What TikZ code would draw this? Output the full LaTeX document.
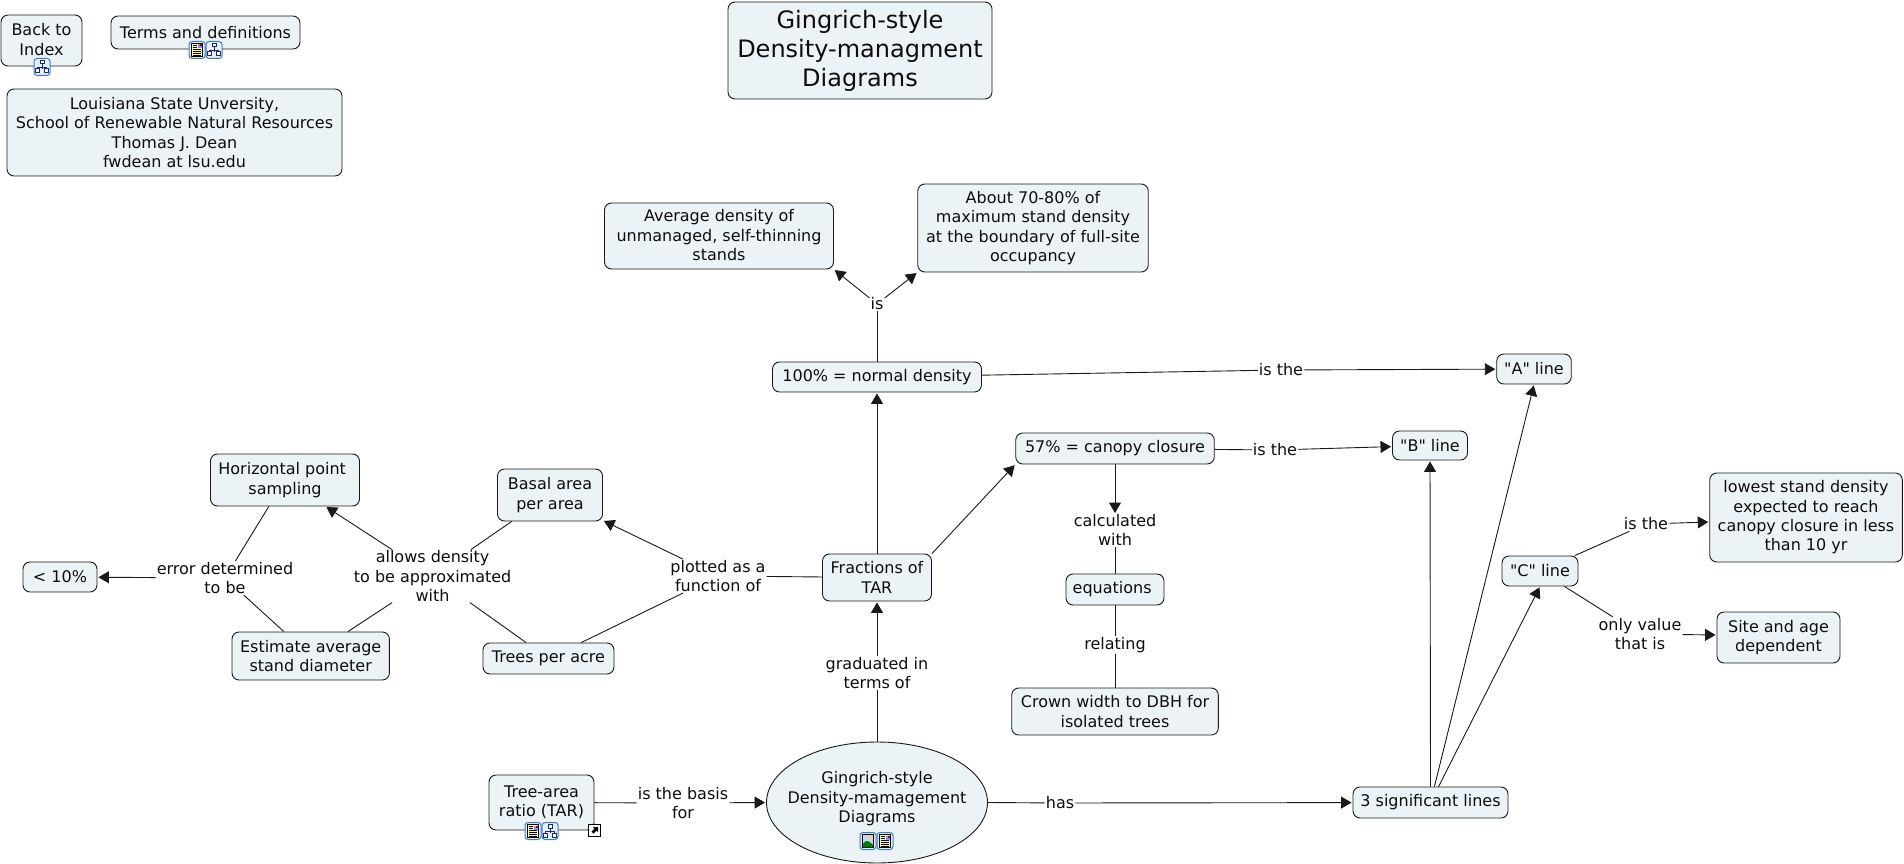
\documentclass[tikz,border=0pt]{standalone}
\usepackage{fontspec}
\setmainfont{DejaVu Sans}
\newfontfamily\plainquotes{DejaVu Sans}
\usetikzlibrary{arrows.meta,shapes.geometric,calc}
\definecolor{boxfill}{HTML}{ECF3F6}
\definecolor{iconblue}{HTML}{3F7CC8}
\definecolor{iconbg}{HTML}{E6EFFA}
\definecolor{navy}{HTML}{1C2B78}
\tikzset{
  base/.style={font=\fontsize{16}{19.3}\selectfont,align=center,text=black!95},
  box/.style={base,draw=black!90,fill=boxfill,line width=0.9pt,rounded corners=7pt,inner sep=0pt},
  lab/.style={base,inner sep=1pt},
  link/.style={draw=black!90,line width=0.9pt},
  arr/.style={link,-{Triangle[length=10.5pt,width=12pt]},shorten >=1pt},
}
\newcommand{\iconframe}{\draw[iconblue,line width=1pt,fill=iconbg,rounded corners=3pt] (-8,-8.5) rectangle (8,8.5);}
\newcommand{\iconmap}[2]{\begin{scope}[shift={(#1,#2)}]
  \iconframe
  \draw[navy,line width=0.9pt] (0,-3) -- (0,0) (-4.5,0) -- (4.5,0) (-4.5,0) -- (-4.5,2) (4.5,0) -- (4.5,2) (0,0) -- (0,2);
  \draw[navy,line width=1pt,fill=white] (-2,-6.5) rectangle (2,-3);
  \draw[navy,line width=1pt,fill=white] (-6.5,2) rectangle (-2.8,6);
  \draw[navy,line width=1pt,fill=white] (2.8,2) rectangle (6.5,6);
\end{scope}}
\newcommand{\icondoc}[2]{\begin{scope}[shift={(#1,#2)}]
  \iconframe
  \draw[black,line width=0.8pt,fill=yellow!35] (-5.5,-6.5) rectangle (5.5,6.5);
  \fill[blue!45] (0.5,-5.5) rectangle (4.5,-1.5);
  \fill[red!70!black] (2.5,-5.5) rectangle (4.5,-3.5);
  \draw[black,line width=0.8pt] (-4,-5) -- (-0.5,-5) (-4,-3) -- (-0.5,-3) (-4,-1) -- (4,-1) (-4,1) -- (4,1) (-4,3) -- (4,3) (-4,5) -- (4,5);
\end{scope}}
\newcommand{\iconimg}[2]{\begin{scope}[shift={(#1,#2)}]
  \iconframe
  \draw[black,line width=0.8pt,fill=blue!18] (-5.5,-6.5) rectangle (5.5,6.5);
  \fill[yellow!90!orange] (2,-3.5) circle (1.8);
  \fill[green!50!black] (-5.1,6.1) -- (-5.1,3) .. controls (-2,-1.5) and (0,-1) .. (5.1,4) -- (5.1,6.1) -- cycle;
\end{scope}}
\newcommand{\iconlink}[2]{\begin{scope}[shift={(#1,#2)}]
  \draw[black,line width=1pt,fill=white] (-6,-6) rectangle (6,6);
  \fill[black] (3.5,-3.5) -- (-1.5,-3.5) -- (0,-2) -- (-3,1) -- (-1,3) -- (2,0) -- (3.5,1.5) -- cycle;
\end{scope}}
\begin{document}
\begin{tikzpicture}[x=1pt,y=-1pt]
\useasboundingbox (0,-1) rectangle (1904,863);
% concepts
\node[box,minimum width=81pt,minimum height=51pt] (back) at (41.5,39.5) {Back to\\ Index\rule[-2pt]{0pt}{0pt}};
\node[box,minimum width=189pt,minimum height=33pt] (terms) at (205.5,31.5) {Terms and definitions};
\node[box,minimum width=335pt,minimum height=87pt] (lsu) at (174.5,131.5) {Louisiana State Unversity,\\School of Renewable Natural Resources\\Thomas J. Dean\\fwdean at lsu.edu};
\node[box,minimum width=264pt,minimum height=97pt,font=\fontsize{24}{29}\selectfont] (title) at (860,49.5) {Gingrich-style\\Density-managment\\Diagrams};
\node[box,minimum width=229pt,minimum height=66pt] (avg) at (719,235) {Average density of\\unmanaged, self-thinning\\stands\rule[-2pt]{0pt}{0pt}};
\node[box,minimum width=230.5pt,minimum height=88pt] (about) at (1033,227) {About 70-80\% of\\maximum stand density\\at the boundary of full-site\\occupancy};
\node[box,minimum width=209pt,minimum height=30pt] (normal) at (877,376) {100\% = normal density};
\node[box,minimum width=109pt,minimum height=47pt] (frac) at (877,576.5) {Fractions of\\TAR};
\node[box,minimum width=198.5pt,minimum height=31pt] (canopy) at (1115,447.5) {57\% = canopy closure};
\node[box,minimum width=98pt,minimum height=31pt] (equ) at (1115,588.5) {equations\hspace*{0.35em}};
\node[box,minimum width=206.6pt,minimum height=47pt] (crown) at (1115,710.5) {Crown width to DBH for\\isolated trees};
\node[box,minimum width=149pt,minimum height=52pt] (hps) at (285,479) {Horizontal point\hspace*{0.35em}\\sampling};
\node[box,minimum width=105pt,minimum height=52pt] (basal) at (550,494) {Basal area\\per area};
\node[box,minimum width=74pt,minimum height=30pt] (ten) at (60,576) {< 10\%};
\node[box,minimum width=157.4pt,minimum height=48pt] (est) at (310.7,655) {Estimate average\\stand diameter};
\node[box,minimum width=131pt,minimum height=31pt] (tpa) at (548.5,657.5) {Trees per acre};
\node[box,minimum width=74.5pt,minimum height=30pt] (aline) at (1534,368) {\plainquotes"A" line};
\node[box,minimum width=75pt,minimum height=29pt] (bline) at (1430,444.5) {\plainquotes"B" line};
\node[box,minimum width=76pt,minimum height=30pt] (cline) at (1540,570) {\plainquotes"C" line};
\node[box,minimum width=192.6pt,minimum height=89pt] (low) at (1806,516.5) {lowest stand density\\expected to reach\\canopy closure in less\\than 10 yr};
\node[box,minimum width=123pt,minimum height=51pt] (site) at (1778.5,636.5) {Site and age\\dependent};
\node[box,minimum width=155pt,minimum height=31pt] (sig) at (1430.5,801.5) {3 significant lines};
\node[box,minimum width=105pt,minimum height=55pt] (tar) at (541.5,801.5) {Tree-area\\ratio (TAR)\rule[-3pt]{0pt}{0pt}};
\node[box,ellipse,inner xsep=-30pt,minimum width=221pt,minimum height=121pt] (main) at (877,801.5) {Gingrich-style\\Density-mamagement\\Diagrams\rule[-11pt]{0pt}{0pt}};
% linking phrases
\node[lab] (is1) at (877,303) {is};
\node[lab] (isa) at (1281,369) {is the};
\node[lab] (isb) at (1275,449) {is the};
\node[lab] (isc) at (1646,523) {is the};
\node[lab] (calc) at (1115,529) {calculated\\with};
\node[lab] (rel) at (1115,644) {relating};
\node[lab] (plot) at (718,575) {plotted as a\\function of};
\node[lab] (allow) at (432.6,575) {allows density\\to be approximated\\with};
\node[lab] (err) at (225,577) {error determined\\to be};
\node[lab] (grad) at (877,672) {graduated in\\terms of};
\node[lab] (basis) at (683,802) {is the basis\\for};
\node[lab] (has) at (1060,802) {has};
\node[lab] (only) at (1640,633) {only value\\that is};
% connectors
\draw[link] (normal.north) -- (is1);
\draw[arr] (is1) -- (avg.south east);
\draw[arr] (is1) -- (about.south west);
\draw[link] (normal) -- (isa);
\draw[arr] (isa) -- (aline);
\draw[arr] (frac.north) -- (normal.south);
\draw[arr] (frac.north east) -- (canopy.south west);
\draw[link] (canopy) -- (isb);
\draw[arr] (isb) -- (bline);
\draw[arr,shorten >=0pt] (canopy.south) -- (calc.north);
\draw[link] (calc) -- (equ.north);
\draw[link] (equ.south) -- (rel);
\draw[link] (rel) -- (crown.north);
\draw[link] (frac) -- (plot);
\draw[arr] (plot) -- (basal);
\draw[link] (plot) -- (tpa);
\draw[link] (tpa) -- (allow);
\draw[link] (basal) -- (allow);
\draw[link] (est) -- (allow);
\draw[arr] (allow) -- (hps);
\draw[link] (hps) -- (err);
\draw[link] (est) -- (err);
\draw[arr] (err) -- (ten);
\draw[link] (main.north) -- (grad);
\draw[arr] (grad) -- (frac.south);
\draw[link] (tar) -- (basis);
\draw[arr] (basis) -- (main.west);
\draw[link] (main.east) -- (has);
\draw[arr] (has) -- (sig);
\draw[arr] (sig.north) -- (bline.south);
\draw[arr] (sig) -- (aline.south);
\draw[arr] (sig) -- (cline.south);
\draw[link] (cline) -- (isc);
\draw[arr] (isc) -- ($(low.west)+(0,4.5)$);
\draw[link] (cline) -- (only);
\draw[arr] (only) -- ($(site.west)+(0,-2.5)$);
% icons
\iconmap{42}{66}
\icondoc{197}{49}
\iconmap{214}{49}
\icondoc{533}{830}
\iconmap{550}{830}
\iconlink{594.5}{829.5}
\iconimg{868}{840}
\icondoc{885}{840}
\end{tikzpicture}
\end{document}
